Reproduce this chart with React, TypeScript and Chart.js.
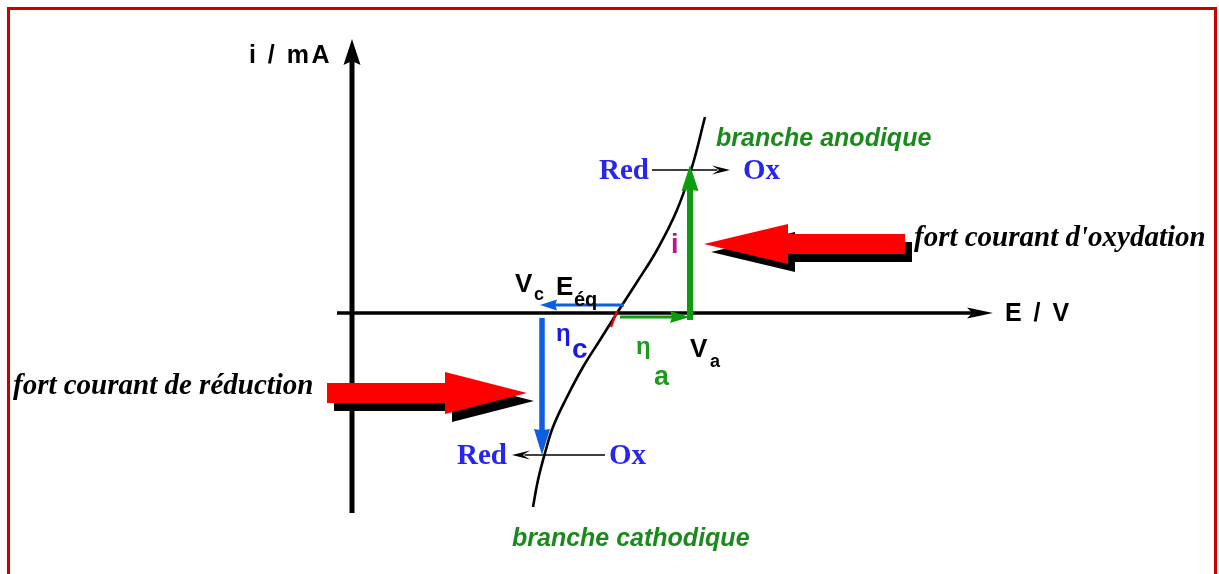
import React, { useEffect, useRef } from "react";
import { Chart, registerables } from "chart.js";

Chart.register(...registerables);

// Scale extents (E in V, i in mA — arbitrary diagram units)
const E_MIN = -7.04;
const E_MAX = 17.34;
const I_MIN = -5.22;
const I_MAX = 6.26;

// Polarisation curve i = f(E)
const curveE = [3.62, 3.72, 3.86, 4.02, 4.3, 4.62, 4.96, 5.3, 5.7, 6.1, 6.5, 6.8, 7.06];
const curveI = [-3.88, -3.34, -2.8, -2.28, -1.68, -1.08, -0.54, 0, 0.62, 1.26, 2.06, 2.92, 3.92];

// Axes extents
const E_AXIS = [-0.3, 12.82];
const I_AXIS = [-4.0, 5.48];

// Characteristic potentials / currents
const E_EQ = 5.3;
const V_A = 6.76;
const V_C = 3.8;
const I_A = 2.96;
const I_C = -2.84;

// Red -> Ox reaction lines [E start, E end, i]
const OX_LINE = [6.0, 7.56, 2.86];
const RED_LINE = [5.06, 3.2, -2.84];

// Big red arrows [tail E, head-base E, tip E, i]
const OX_ARROW = [11.06, 8.72, 7.04, 1.38];
const RED_ARROW = [-0.5, 1.86, 3.5, -1.6];

// Text labels
const LABEL_I_AXIS = "i / mA";
const LABEL_E_AXIS = "E / V";
const LABEL_ANO = "branche anodique";
const LABEL_CATH = "branche cathodique";
const LABEL_OXY = "fort courant d'oxydation";
const LABEL_RED = "fort courant de réduction";

const SANS = "'Liberation Sans', Arial, sans-serif";
const SERIF = "'Liberation Serif', 'Times New Roman', serif";

function head(ctx: CanvasRenderingContext2D, tx: number, ty: number, dx: number, dy: number, len: number, hw: number, notch: number, color: string) {
  const nx = -dy, ny = dx;
  ctx.beginPath();
  ctx.moveTo(tx, ty);
  ctx.lineTo(tx - dx * len + nx * hw, ty - dy * len + ny * hw);
  ctx.lineTo(tx - dx * len * notch, ty - dy * len * notch);
  ctx.lineTo(tx - dx * len - nx * hw, ty - dy * len - ny * hw);
  ctx.closePath();
  ctx.fillStyle = color;
  ctx.fill();
}

function arrow(ctx: CanvasRenderingContext2D, x0: number, y0: number, x1: number, y1: number, w: number, len: number, hw: number, notch: number, color: string) {
  const L = Math.hypot(x1 - x0, y1 - y0);
  const dx = (x1 - x0) / L, dy = (y1 - y0) / L;
  ctx.beginPath();
  ctx.moveTo(x0, y0);
  ctx.lineTo(x1 - dx * len * 0.7, y1 - dy * len * 0.7);
  ctx.strokeStyle = color;
  ctx.lineWidth = w;
  ctx.lineCap = "butt";
  ctx.stroke();
  head(ctx, x1, y1, dx, dy, len, hw, notch, color);
}

function bigArrow(ctx: CanvasRenderingContext2D, tail: number, base: number, tip: number, cy: number, bh: number, hh: number, color: string) {
  ctx.beginPath();
  ctx.moveTo(tail, cy - bh);
  ctx.lineTo(base, cy - bh);
  ctx.lineTo(base, cy - hh);
  ctx.lineTo(tip, cy);
  ctx.lineTo(base, cy + hh);
  ctx.lineTo(base, cy + bh);
  ctx.lineTo(tail, cy + bh);
  ctx.closePath();
  ctx.fillStyle = color;
  ctx.fill();
}

function text(ctx: CanvasRenderingContext2D, s: string, x: number, y: number, font: string, color: string, align: CanvasTextAlign = "left", spacing = 0) {
  ctx.font = font;
  ctx.fillStyle = color;
  ctx.textAlign = align;
  ctx.textBaseline = "alphabetic";
  (ctx as any).letterSpacing = spacing + "px";
  ctx.fillText(s, x, y);
  (ctx as any).letterSpacing = "0px";
}

const diagramPlugin = {
  id: "diagram",
  beforeDatasetsDraw(chart: any) {
    const ctx: CanvasRenderingContext2D = chart.ctx;
    const X = (e: number) => chart.scales.x.getPixelForValue(e);
    const Y = (i: number) => chart.scales.y.getPixelForValue(i);
    ctx.save();
    // frame
    ctx.strokeStyle = "#cc0000";
    ctx.lineWidth = 3;
    ctx.strokeRect(8.5, 8.5, 1207, 620);
    // E axis
    arrow(ctx, X(E_AXIS[0]), Y(0), X(E_AXIS[1]), Y(0), 3.5, 26, 5.5, 0.8, "#000");
    // i axis
    arrow(ctx, X(0), Y(I_AXIS[0]), X(0), Y(I_AXIS[1]), 5, 26, 8.5, 0.85, "#000");
    ctx.restore();
  },
  afterDatasetsDraw(chart: any) {
    const ctx: CanvasRenderingContext2D = chart.ctx;
    const X = (e: number) => chart.scales.x.getPixelForValue(e);
    const Y = (i: number) => chart.scales.y.getPixelForValue(i);
    ctx.save();

    // Red -> Ox lines
    arrow(ctx, X(OX_LINE[0]), Y(OX_LINE[2]), X(OX_LINE[1]), Y(OX_LINE[2]), 1.6, 18, 4.5, 0.6, "#000");
    arrow(ctx, X(RED_LINE[0]), Y(RED_LINE[2]), X(RED_LINE[1]), Y(RED_LINE[2]), 1.6, 18, 4.5, 0.6, "#000");

    // green (anodic) arrows
    const green = "#0c9c0c";
    arrow(ctx, X(E_EQ + 0.06), Y(-0.08), X(V_A), Y(-0.08), 3, 20, 6, 0.9, green);
    arrow(ctx, X(V_A), Y(-0.14), X(V_A), Y(I_A), 6, 26, 8.5, 0.95, green);

    // blue (cathodic) arrows
    const blue = "#0b5fe0";
    arrow(ctx, X(E_EQ + 0.14), Y(0.16), X(V_C - 0.04), Y(0.16), 3, 17, 5.5, 0.9, blue);
    arrow(ctx, X(V_C), Y(-0.1), X(V_C), Y(I_C), 5.5, 26, 8, 0.95, blue);

    // small red tick at equilibrium
    ctx.beginPath();
    ctx.moveTo(X(E_EQ), Y(0.04));
    ctx.lineTo(X(E_EQ - 0.12), Y(-0.28));
    ctx.strokeStyle = "#ff0000";
    ctx.lineWidth = 2.2;
    ctx.stroke();

    // big red arrows with shadows
    const oxTip = X(OX_ARROW[2]), oxBase = X(OX_ARROW[1]), oxTail = X(OX_ARROW[0]), oxY = Y(OX_ARROW[3]);
    bigArrow(ctx, oxTail + 7, oxBase + 7, oxTip + 7, oxY + 8, 10, 20, "#000");
    bigArrow(ctx, oxTail, oxBase, oxTip, oxY, 10, 20, "#ff0000");
    const rdTip = X(RED_ARROW[2]), rdBase = X(RED_ARROW[1]), rdTail = X(RED_ARROW[0]), rdY = Y(RED_ARROW[3]);
    bigArrow(ctx, rdTail + 7, rdBase + 7, rdTip + 7, rdY + 8, 10, 21, "#000");
    bigArrow(ctx, rdTail, rdBase, rdTip, rdY, 10, 21, "#ff0000");

    // axis labels
    text(ctx, LABEL_I_AXIS, X(0) - 20, Y(I_AXIS[1]) + 24, `bold 25px ${SANS}`, "#000", "right", 2.5);
    text(ctx, LABEL_E_AXIS, X(E_AXIS[1]) + 12, Y(0) + 8, `bold 25px ${SANS}`, "#000", "left", 2.5);

    // branches
    const dgreen = "#1a8a1a";
    text(ctx, LABEL_ANO, 716, 146, `italic bold 25px ${SANS}`, dgreen);
    text(ctx, LABEL_CATH, 512, 546, `italic bold 25px ${SANS}`, dgreen);

    // Red / Ox
    const rb = "#2626ee";
    const sf = `bold 29px ${SERIF}`;
    text(ctx, "Red", X(OX_LINE[0]) - 3, Y(OX_LINE[2]) + 9, sf, rb, "right");
    text(ctx, "Ox", X(OX_LINE[1]) + 13, Y(OX_LINE[2]) + 9, sf, rb, "left");
    text(ctx, "Red", X(RED_LINE[1]) - 5, Y(RED_LINE[2]) + 9, sf, rb, "right");
    text(ctx, "Ox", X(RED_LINE[0]) + 4, Y(RED_LINE[2]) + 9, sf, rb, "left");

    // Vc, Eéq
    text(ctx, "V", 515, 292, `bold 26px ${SANS}`, "#000");
    text(ctx, "c", 534, 300, `bold 18px ${SANS}`, "#000");
    text(ctx, "E", 556, 295, `bold 26px ${SANS}`, "#000");
    text(ctx, "éq", 574, 306, `bold 20px ${SANS}`, "#000");

    // eta c
    const etaBlue = "#1a1ae6";
    text(ctx, "η", 556, 341, `bold 24px ${SANS}`, etaBlue);
    text(ctx, "c", 572, 358, `bold 28px ${SANS}`, etaBlue);

    // eta a
    const etaGreen = "#1e9a1e";
    text(ctx, "η", 636, 354, `bold 24px ${SANS}`, etaGreen);
    text(ctx, "a", 654, 385, `bold 27px ${SANS}`, etaGreen);

    // Va
    text(ctx, "V", 690, 357, `bold 26px ${SANS}`, "#000");
    text(ctx, "a", 710, 367, `bold 18px ${SANS}`, "#000");

    // i
    text(ctx, "i", 671, 253, `bold 27px ${SANS}`, "#c0148c");

    // side notes
    text(ctx, LABEL_OXY, 914, 246, `italic bold 29px ${SERIF}`, "#000");
    text(ctx, LABEL_RED, 13, 394, `italic bold 29px ${SERIF}`, "#000");

    ctx.restore();
  },
};

export default function App() {
  const ref = useRef<HTMLCanvasElement>(null);
  useEffect(() => {
    const chart = new Chart(ref.current as HTMLCanvasElement, {
      type: "scatter",
      data: {
        datasets: [
          {
            data: curveE.map((e, k) => ({ x: e, y: curveI[k] })),
            showLine: true,
            borderColor: "#000",
            borderWidth: 2.6,
            pointRadius: 0,
            tension: 0.4,
            fill: false,
          } as any,
        ],
      },
      options: {
        animation: false,
        responsive: false,
        devicePixelRatio: 1,
        events: [],
        layout: { padding: 0 },
        scales: {
          x: { type: "linear", min: E_MIN, max: E_MAX, display: false },
          y: { type: "linear", min: I_MIN, max: I_MAX, display: false },
        },
        plugins: { legend: { display: false }, tooltip: { enabled: false } },
      },
      plugins: [diagramPlugin],
    });
    return () => chart.destroy();
  }, []);
  return (
    <div style={{ position: "absolute", left: 0, top: 0, width: 1219, height: 574, background: "#fff", overflow: "hidden" }}>
      <canvas ref={ref} width={1219} height={574} style={{ display: "block" }} />
    </div>
  );
}
